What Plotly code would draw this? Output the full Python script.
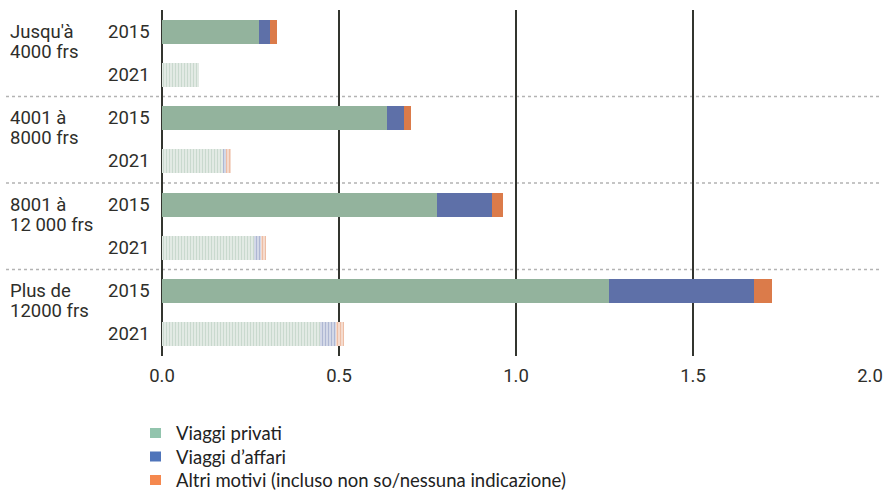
import plotly.graph_objects as go

# rows top to bottom: 2015 / 2021 for each income band
group_line1 = ["Jusqu'à", "4001 à", "8001 à", "Plus de"]
group_line2 = ["4000 frs", "8000 frs", "12 000 frs", "12000 frs"]
years = ["2015", "2021"]

priv_2015 = [0.274, 0.636, 0.777, 1.263]
bus_2015 = [0.031, 0.048, 0.155, 0.409]
oth_2015 = [0.020, 0.019, 0.031, 0.051]

priv_2021 = [0.104, 0.172, 0.260, 0.446]
bus_2021 = [0.0, 0.008, 0.020, 0.046]
oth_2021 = [0.0, 0.015, 0.014, 0.022]

series = ["Viaggi privati", "Viaggi d’affari", "Altri motivi (incluso non so/nessuna indicazione)"]
bar_colors = ["#93b39d", "#5e70a8", "#db7b4a"]
legend_colors = ["#92c4ad", "#4f74ba", "#f5884e"]

xticks = [0.0, 0.5, 1.0, 1.5, 2.0]

rows_2015 = [0, 2, 4, 6]
rows_2021 = [1, 3, 5, 7]

W, H = 886, 490
L, R, T, B = 162, 16, 10, 134
pw, ph = W - L - R, H - T - B


def px_x(p):
    return (p - L) / pw


def px_y(p):
    return (H - B - p) / ph


fig = go.Figure()

for name, vals, col in zip(series, [priv_2015, bus_2015, oth_2015], bar_colors):
    fig.add_trace(go.Bar(x=vals, y=rows_2015, orientation="h", name=name,
                         marker=dict(color=col, line=dict(width=0)),
                         width=0.56, showlegend=False))

for name, vals, col in zip(series, [priv_2021, bus_2021, oth_2021], bar_colors):
    fig.add_trace(go.Bar(x=vals, y=rows_2021, orientation="h", name=name,
                         marker=dict(color="white", line=dict(width=0),
                                     pattern=dict(shape="|", fgcolor=col, size=3,
                                                  solidity=0.7, fillmode="overlay")),
                         width=0.56, showlegend=False))

font = "Roboto, Liberation Sans, sans-serif"
ink = "#2e2e2a"
fsize = 18.5

# year labels and group labels
for i in range(len(group_line1)):
    for j, yr in enumerate(years):
        fig.add_annotation(x=0, xref="paper", y=2 * i + j, yref="y", text=yr,
                           xanchor="right", showarrow=False, xshift=-10,
                           font=dict(family=font, size=fsize, color=ink))
    for k, txt in enumerate([group_line1[i], group_line2[i]]):
        fig.add_annotation(x=px_x(8), xref="paper", y=2 * i, yref="y", text=txt,
                           xanchor="left", yanchor="middle", showarrow=False,
                           yshift=-20 * k, font=dict(family=font, size=fsize, color=ink))

# dotted separators between groups
for ysep in [1.5, 3.5, 5.5]:
    fig.add_shape(type="line", xref="paper", yref="y", x0=px_x(6), x1=px_x(880), y0=ysep, y1=ysep,
                  line=dict(color="#b3b3b3", width=1.5, dash="dot"), layer="below")

# legend below the chart
for k, (name, col) in enumerate(zip(series, legend_colors)):
    cy = 433 + 23.5 * k
    fig.add_shape(type="rect", xref="paper", yref="paper",
                  x0=px_x(150), x1=px_x(161), y0=px_y(cy + 5), y1=px_y(cy - 5),
                  fillcolor=col, line=dict(width=0))
    fig.add_annotation(x=px_x(174), xref="paper", y=px_y(cy), yref="paper", text=name,
                       xanchor="left", yanchor="middle", showarrow=False,
                       font=dict(family="Lato, sans-serif", size=18.5, color="#222"))

fig.update_layout(
    barmode="stack",
    width=W, height=H,
    margin=dict(l=L, r=R, t=T, b=B),
    plot_bgcolor="white", paper_bgcolor="white",
    font=dict(family=font, size=fsize, color=ink),
    showlegend=False,
    xaxis=dict(range=[0, 2.0], tickvals=xticks, ticktext=[f"{v:.1f}" for v in xticks],
               showgrid=True, gridcolor="#33352f", gridwidth=1.5,
               zeroline=True, zerolinecolor="#33352f", zerolinewidth=1.5,
               showline=False, ticks="", ticklabelstandoff=6, automargin=False,
               ticklabeloverflow="allow",
               tickfont=dict(family=font, size=fsize, color=ink)),
    yaxis=dict(range=[7.5, -0.5], showticklabels=False, showgrid=False,
               zeroline=False, showline=False, automargin=False),
)

# the page margin would push the figure 8px in; drop it
fig.write_html("out.html", config={"displayModeBar": False},
               post_script="document.body.style.margin='0';"
                           "document.documentElement.style.overflow='hidden';")
